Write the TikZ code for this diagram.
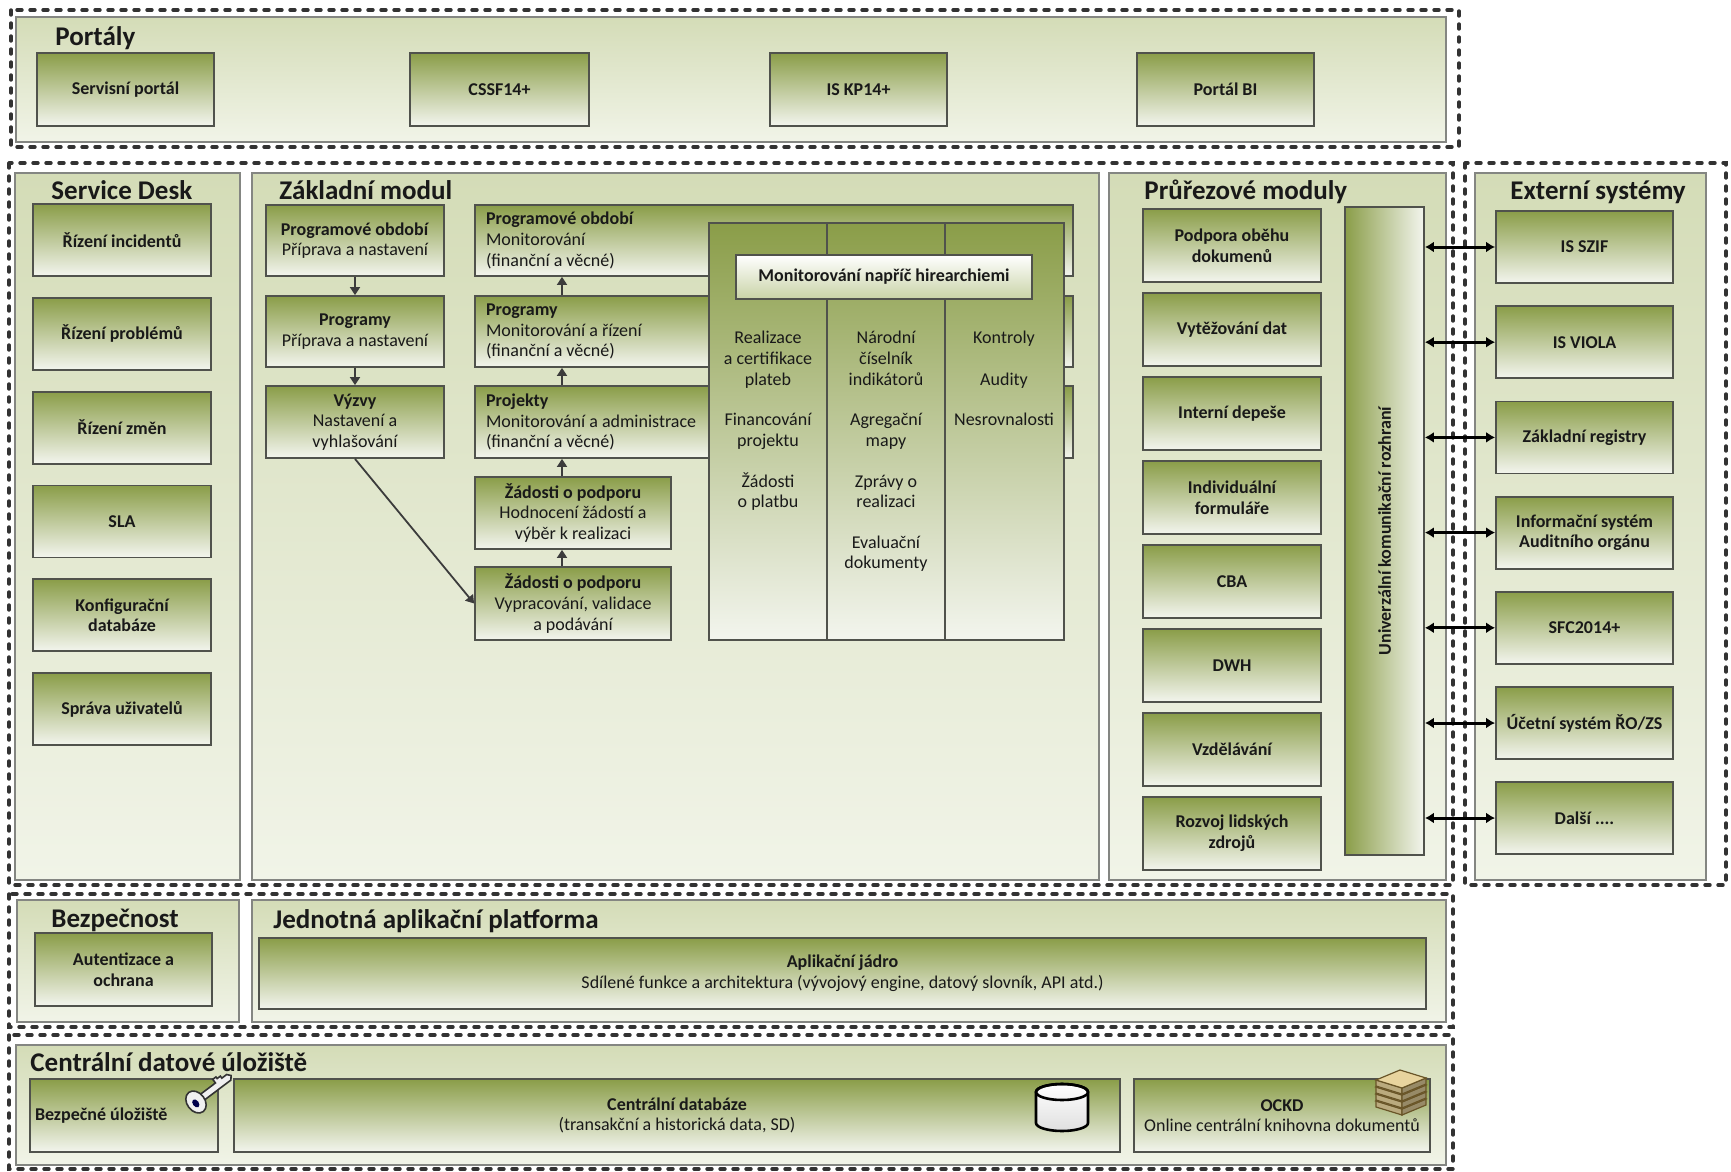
\documentclass[tikz,border=0pt]{standalone}
\usepackage{fontspec}
\setmainfont{Carlito}
\usetikzlibrary{shapes,arrows,arrows.meta}

\definecolor{framegray}{RGB}{50,50,50}
\definecolor{edgegray}{RGB}{80,82,76}
\definecolor{paneltop}{RGB}{212,220,183}
\definecolor{panelbot}{RGB}{241,244,232}
\definecolor{boxtop}{RGB}{138,157,72}
\definecolor{boxbot}{RGB}{243,245,238}
\definecolor{txt}{RGB}{25,25,25}
\definecolor{arrowgray}{RGB}{60,60,60}
\definecolor{paper}{RGB}{232,212,158}
\definecolor{paperedge}{RGB}{105,85,40}

\begin{document}
\begin{tikzpicture}[x=0.5pt,y=-0.5pt,
  dashframe/.style={draw=framegray, line width=1.7pt, dash pattern=on 2.5pt off 4pt, line cap=round},
  panel/.style={draw=edgegray!70, line width=0.7pt, top color=paneltop, bottom color=panelbot},
  paneltitle/.style={anchor=base west, inner sep=0pt, text=txt, font=\fontsize{13.5}{16}\selectfont\bfseries},
  boxat/.style n args={4}{at={({((#1)+(#3))/2},{((#2)+(#4))/2})},
    minimum width={((#3)-(#1))*0.5pt}, minimum height={((#4)-(#2))*0.5pt}},
  modbox/.style={draw=edgegray, line width=0.9pt, top color=boxtop, bottom color=boxbot,
    inner sep=0pt, align=center, text=txt, font=\fontsize{9}{10.3}\selectfont},
  boldbox/.style={modbox, font=\fontsize{9}{10.3}\selectfont\bfseries},
  longbox/.style={modbox, text width=288pt, align=flush left},
  coltext/.style={anchor=base, text=txt, font=\fontsize{9}{10.3}\selectfont},
  flow/.style={draw=arrowgray, line width=0.9pt, -{Triangle[length=4pt,width=5pt]}},
  link/.style={draw=black, line width=1.5pt, {Latex[length=4.5pt,width=5.5pt]}-{Latex[length=4.5pt,width=5.5pt]}}]

\useasboundingbox (0,0) rectangle (1731,1172);
\fill[white] (0,0) rectangle (1731,1172);

% ramce
\draw[dashframe] (11,10) rectangle (1459,147);
\draw[dashframe] (9,163) rectangle (1453,885);
\draw[dashframe] (1465,163) rectangle (1726,885);
\draw[dashframe] (9,894) rectangle (1453,1027);
\draw[dashframe] (9,1035) rectangle (1453,1169);

% portaly
\draw[panel] (16,17) rectangle (1446,142);
\node[paneltitle] (portaly) at (55,46) {Portály};
\node[boldbox, boxat={37}{53}{214}{126}] (servis) {Servisní portál};
\node[boldbox, boxat={410}{53}{589}{126}] (cssf) {CSSF14+};
\node[boldbox, boxat={770}{53}{947}{126}] (iskp) {IS KP14+};
\node[boldbox, boxat={1137}{53}{1314}{126}] (bi) {Portál BI};

% service desk
\draw[panel] (15,173) rectangle (240,880);
\node[paneltitle] (sdesk) at (51,199) {Service Desk};
\foreach \t [count=\i] in {Řízení incidentů, Řízení problémů, Řízení změn, SLA,
    {Konfigurační\\databáze}, Správa uživatelů}
  \node[boldbox, boxat={33}{204+93.8*(\i-1)}{211}{276+93.8*(\i-1)}] (sd\i) {\t};

% zakladni modul
\draw[panel] (252,173) rectangle (1099,880);
\node[paneltitle] (zmodul) at (279,199) {Základní modul};
\node[modbox, boxat={266}{205}{444}{276}] (prip1) {\textbf{Programové období}\\Příprava a nastavení};
\node[modbox, boxat={266}{296}{444}{367}] (prip2) {\textbf{Programy}\\Příprava a nastavení};
\node[modbox, boxat={266}{386}{444}{458}] (vyzvy) {\textbf{Výzvy}\\Nastavení a\\vyhlašování};
\node[longbox, boxat={475}{205}{1073}{276}] (mon1) {\textbf{Programové období}\\Monitorování\\(finanční a věcné)};
\node[longbox, boxat={475}{296}{1073}{367}] (mon2) {\textbf{Programy}\\Monitorování a řízení\\(finanční a věcné)};
\node[longbox, boxat={475}{386}{1073}{458}] (mon3) {\textbf{Projekty}\\Monitorování a administrace\\(finanční a věcné)};
\node[modbox, boxat={475}{477}{671}{549}] (zad1) {\textbf{Žádosti o podporu}\\Hodnocení žádostí a\\výběr k realizaci};
\node[modbox, boxat={475}{567}{671}{640}] (zad2) {\textbf{Žádosti o podporu}\\Vypracování, validace\\a podávání};

\coordinate (ax) at (562,0);
\draw[flow] (prip1) -- (prip2);
\draw[flow] (prip2) -- (vyzvy);
\draw[flow] (vyzvy.south) -- (zad2.west);
\draw[flow] (zad2.north -| ax) -- (zad1.south -| ax);
\draw[flow] (zad1.north -| ax) -- (mon3.south -| ax);
\draw[flow] (mon3.north -| ax) -- (mon2.south -| ax);
\draw[flow] (mon2.north -| ax) -- (mon1.south -| ax);

% monitorovani napric hierarchiemi
\node[modbox, boxat={709}{223}{827}{640}] (col1) {};
\node[modbox, boxat={827}{223}{945}{640}] (col2) {};
\node[modbox, boxat={945}{223}{1064}{640}] (col3) {};
\node[boldbox, top color=white, bottom color=paneltop!85!boxtop, boxat={736}{255}{1032}{299}] (napric) {Monitorování napříč hirearchiemi};

\foreach \y/\t [count=\i] in {343/Realizace, 364/a certifikace, 385/plateb, 425/Financování,
    446/projektu, 487/Žádosti, 507/o platbu}
  \node[coltext] (ka\i) at (768,\y) {\t};
\foreach \y/\t [count=\i] in {343/Národní, 364/číselník, 385/indikátorů, 425/Agregační, 446/mapy,
    487/Zprávy o, 507/realizaci, 548/Evaluační, 568/dokumenty}
  \node[coltext] (kb\i) at (886,\y) {\t};
\foreach \y/\t [count=\i] in {343/Kontroly, 385/Audity, 425/Nesrovnalosti}
  \node[coltext] (kc\i) at (1004,\y) {\t};

% prurezove moduly
\draw[panel] (1109,173) rectangle (1446,880);
\node[paneltitle] (prurez) at (1144,199) {Průřezové moduly};
\foreach \t [count=\i] in {{Podpora oběhu\\dokumenů}, Vytěžování dat, Interní depeše,
    {Individuální\\formuláře}, CBA, DWH, Vzdělávání, {Rozvoj lidských\\zdrojů}}
  \node[boldbox, boxat={1143}{209+84*(\i-1)}{1321}{282+84*(\i-1)}] (pm\i) {\t};
\node[modbox, left color=boxtop, right color=boxbot, boxat={1345}{207}{1424}{855}] (uni) {};
\node[rotate=90, text=txt, font=\fontsize{9}{10.3}\selectfont\bfseries] (unitxt) at (uni.center)
  {Univerzální komunikační rozhraní};

% externi systemy
\draw[panel] (1475,173) rectangle (1706,880);
\node[paneltitle] (extern) at (1510,199) {Externí systémy};
\foreach \t [count=\i] in {IS SZIF, IS VIOLA, Základní registry, {Informační systém\\Auditního orgánu},
    SFC2014+, Účetní systém ŘO/ZS}
  \node[boldbox, boxat={1496}{211+95.2*(\i-1)}{1673}{283+95.2*(\i-1)}] (ext\i) {\t};
\node[boldbox, boxat={1496}{782}{1673}{854}] (ext7) {Další ....};
\foreach \i in {1,...,7}
  \draw[link] (uni.east |- ext\i.west) -- (ext\i.west);

% bezpecnost a platforma
\draw[panel] (17,900) rectangle (239,1022);
\node[paneltitle] (bezp) at (51,927) {Bezpečnost};
\node[boldbox, boxat={35}{933}{212}{1006}] (autent) {Autentizace a\\ochrana};
\draw[panel] (252,900) rectangle (1446,1022);
\node[paneltitle] (platf) at (273,928) {Jednotná aplikační platforma};
\node[modbox, boxat={259}{938}{1426}{1009}] (jadro) {\textbf{Aplikační jádro}\\Sdílené funkce a architektura (vývojový engine, datový slovník, API atd.)};

% centralni datove uloziste
\draw[panel] (16,1045) rectangle (1446,1165);
\node[paneltitle] (cdu) at (30,1071) {Centrální datové úložiště};
\node[boldbox, text width=89pt, align=flush left, boxat={30}{1079}{218}{1152}] (bezul) {Bezpečné úložiště};
\node[modbox, boxat={234}{1079}{1120}{1152}] (cdb) {\textbf{Centrální databáze}\\(transakční a historická data, SD)};
\node[modbox, boxat={1134}{1079}{1430}{1152}] (ockd) {\textbf{OCKD}\\Online centrální knihovna dokumentů};

% klic
\begin{scope}[shift={(196,1102)}, rotate=37]
  \filldraw[fill=gray!12, draw=black!80, line width=0.8pt]
    (6,-3.5) -- (27,-3.5) -- (27,-8) -- (31,-8) -- (31,-6) -- (35,-6) -- (35,-3.5) -- (41,-3.5)
    -- (44,0) -- (41,3.5) -- (6,3.5) -- cycle;
  \filldraw[fill=gray!12, draw=black!80, line width=0.8pt] (0,0) ellipse [x radius=9, y radius=12];
  \fill[black!70!blue] (-1,1) ellipse [x radius=3, y radius=4.5];
\end{scope}

% databaze
\filldraw[top color=white, bottom color=gray!25, draw=black, line width=1.3pt]
  (1036,1092) -- (1036,1123) arc[start angle=180, end angle=0, x radius=26, y radius=8]
  -- (1088,1092) arc[start angle=0, end angle=-180, x radius=26, y radius=8] -- cycle;
\draw[black, line width=1.3pt] (1062,1092) ellipse [x radius=26, y radius=8];

% knihovna
\foreach \y in {1101,1094,1087,1080} {
  \filldraw[fill=paper!80!black, draw=paperedge, line width=0.6pt]
    (1376,\y) -- (1402,\y+8) -- (1402,\y+14) -- (1376,\y+6) -- cycle;
  \filldraw[fill=paper!65!black, draw=paperedge, line width=0.6pt]
    (1402,\y+8) -- (1426,\y-2) -- (1426,\y+4) -- (1402,\y+14) -- cycle;
  \filldraw[fill=paper, draw=paperedge, line width=0.6pt]
    (1376,\y) -- (1400,\y-10) -- (1426,\y-2) -- (1402,\y+8) -- cycle;
}

\end{tikzpicture}
\end{document}
